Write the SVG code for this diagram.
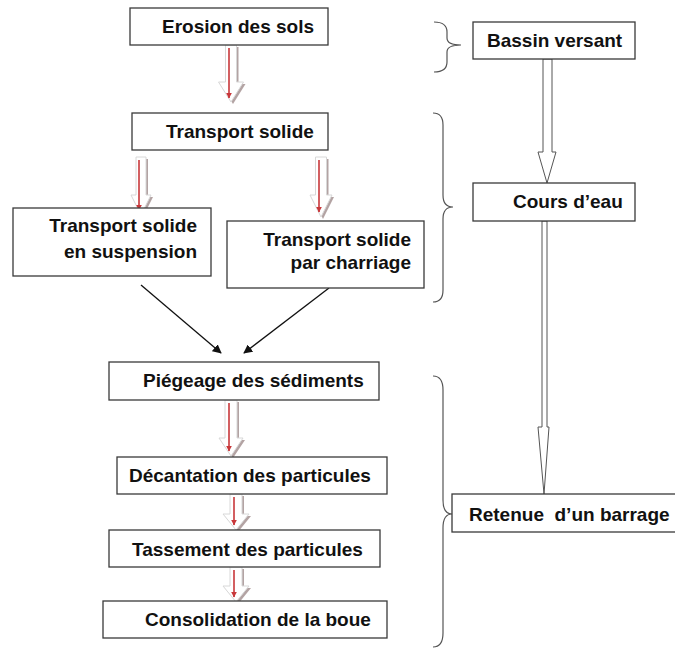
<svg xmlns="http://www.w3.org/2000/svg" width="675" height="650" viewBox="0 0 675 650">
<defs>
<style>
.box{fill:#fff;stroke:#3a3a3a;stroke-width:1.3}
.t{font-family:"Liberation Sans",Arial,sans-serif;font-weight:bold;font-size:19px;fill:#111}
.r{text-anchor:end}
.bs{fill:#a08c8c;opacity:0.8}
.bw{fill:#fff;stroke:#d8d8d8;stroke-width:1}
.red{stroke:#c8373a;stroke-width:1.6;fill:none}
.hol{fill:#fff;stroke:#555;stroke-width:1}
.brace{fill:none;stroke:#555;stroke-width:1.2}
.blk{stroke:#111;stroke-width:1.3;fill:none;marker-end:url(#ah)}
</style>
<marker id="ah" viewBox="0 0 10 10" refX="9" refY="5" markerWidth="9" markerHeight="9" markerUnits="userSpaceOnUse" orient="auto"><path d="M0,0 L10,5 L0,10 z" fill="#111"/></marker>
<marker id="rh" viewBox="0 0 10 10" refX="9" refY="5" markerWidth="6" markerHeight="6" markerUnits="userSpaceOnUse" orient="auto"><path d="M0,0 L10,5 L0,10 z" fill="#c8373a"/></marker>
</defs>

<g id="connectors">
  <!-- block arrows with red core -->
  <g id="ba1">
    <polygon class="bs" points="227.5,47 238.5,47 238.5,84 245.5,84 233,104 220.5,84 227.5,84"/>
    <polygon class="bw" points="225.5,45 236.5,45 236.5,82 243.5,82 231,102 218.5,82 225.5,82"/>
    <line class="red" x1="229" y1="48" x2="229" y2="98" marker-end="url(#rh)"/>
  </g>
  <g id="ba2">
    <polygon class="bs" points="138,159 148,159 148,197 153,197 143,217 133,197 138,197"/>
    <polygon class="bw" points="136,157 146,157 146,195 151,195 141,215 131,195 136,195"/>
    <line class="red" x1="139" y1="160" x2="139" y2="210" marker-end="url(#rh)"/>
  </g>
  <g id="ba3">
    <polygon class="bs" points="317.5,159 328.5,159 328.5,197 334,197 323,219 312,197 317.5,197"/>
    <polygon class="bw" points="315.5,157 326.5,157 326.5,195 332,195 321,217 310,195 315.5,195"/>
    <line class="red" x1="319" y1="160" x2="319" y2="212" marker-end="url(#rh)"/>
  </g>
  <g id="ba4">
    <polygon class="bs" points="227,402 239,402 239,440 245,440 233,458 221,440 227,440"/>
    <polygon class="bw" points="225,400 237,400 237,438 243,438 231,456 219,438 225,438"/>
    <line class="red" x1="229" y1="403" x2="229" y2="451" marker-end="url(#rh)"/>
  </g>
  <g id="ba5">
    <polygon class="bs" points="232,496 244,496 244,516 251,516 238,532 225,516 232,516"/>
    <polygon class="bw" points="230,494 242,494 242,514 249,514 236,530 223,514 230,514"/>
    <line class="red" x1="234" y1="497" x2="234" y2="525" marker-end="url(#rh)"/>
  </g>
  <g id="ba6">
    <polygon class="bs" points="232,569 244,569 244,588 251,588 238,604 225,588 232,588"/>
    <polygon class="bw" points="230,567 242,567 242,586 249,586 236,602 223,586 230,586"/>
    <line class="red" x1="234" y1="570" x2="234" y2="597" marker-end="url(#rh)"/>
  </g>
  <!-- black arrows -->
  <line class="blk" x1="141" y1="285" x2="221" y2="353"/>
  <line class="blk" x1="329" y1="288" x2="244" y2="353"/>
  <!-- hollow arrows right -->
  <polygon class="hol" points="543,59 552,59 552,152 556,152 547,183 538,152 543,152"/>
  <polygon class="hol" points="542,221 547,221 547,427 549,427 544,494 538,427 542,427"/>
  <!-- braces -->
  <path class="brace" d="M434,22 Q447,22 447,32 L447,38 Q447,45 461,45 Q447,45 447,52 L447,62 Q447,72 434,72"/>
  <path class="brace" d="M433,113 Q443,113 443,125 L443,195 Q443,207 453,207 Q443,207 443,219 L443,290 Q443,302 433,302"/>
  <path class="brace" d="M433,376 Q443,376 443,390 L443,500 Q443,514 452,514 Q443,514 443,528 L443,633 Q443,647 433,647"/>
</g>

<g id="erosion"><rect class="box" x="130" y="8" width="198" height="37"/><text class="t" x="162" y="33">Erosion des sols</text></g>
<g id="transport"><rect class="box" x="132" y="113" width="196" height="37"/><text class="t" x="166" y="138">Transport solide</text></g>
<g id="suspension"><rect class="box" x="13" y="208" width="198" height="68"/><text class="t r" x="197" y="232">Transport solide</text><text class="t r" x="197" y="258">en suspension</text></g>
<g id="charriage"><rect class="box" x="227" y="221" width="197" height="67"/><text class="t r" x="411" y="246">Transport solide</text><text class="t r" x="411" y="269">par charriage</text></g>
<g id="piegeage"><rect class="box" x="109" y="362" width="270" height="38"/><text class="t" x="143" y="387">Piégeage des sédiments</text></g>
<g id="decantation"><rect class="box" x="117" y="457" width="270" height="37"/><text class="t" x="129" y="482">Décantation des particules</text></g>
<g id="tassement"><rect class="box" x="109" y="530" width="271" height="37"/><text class="t" x="132" y="556">Tassement des particules</text></g>
<g id="consolidation"><rect class="box" x="103" y="601" width="284" height="37"/><text class="t" x="145" y="626">Consolidation de la boue</text></g>
<g id="bassin"><rect class="box" x="473" y="22" width="162" height="37"/><text class="t" x="487" y="47">Bassin versant</text></g>
<g id="cours"><rect class="box" x="473" y="183" width="162" height="38"/><text class="t" x="513" y="208">Cours d’eau</text></g>
<g id="retenue"><rect class="box" x="452" y="494" width="230" height="38"/><text class="t" x="469" y="521" xml:space="preserve">Retenue  d’un barrage</text></g>
</svg>
